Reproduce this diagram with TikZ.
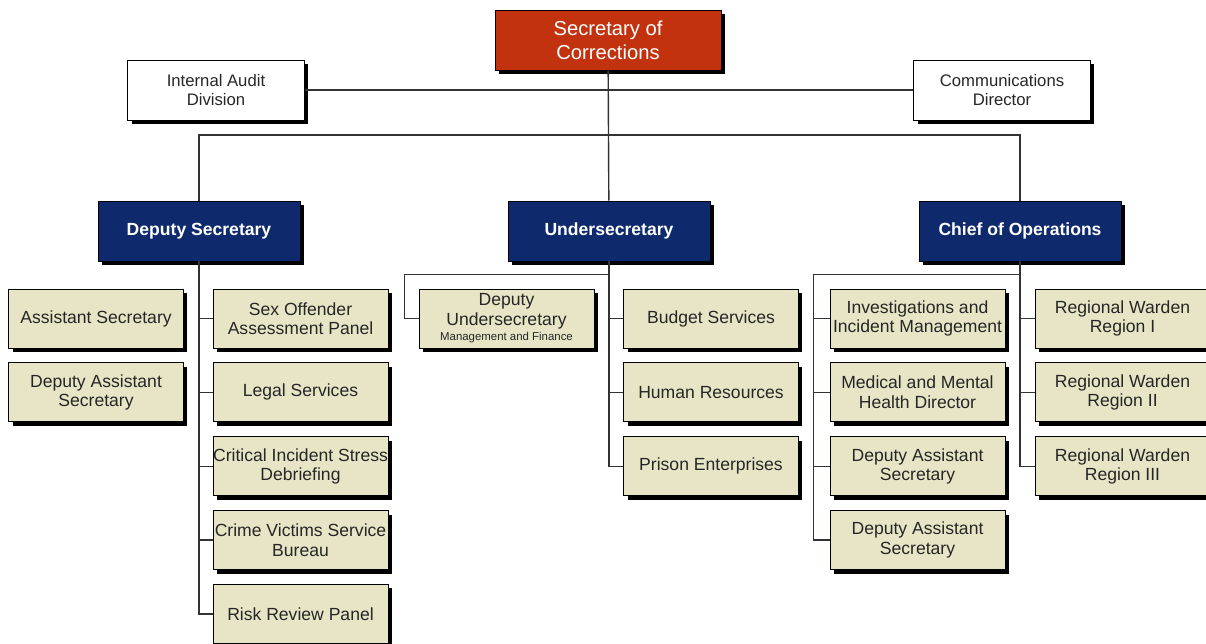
\documentclass[tikz,border=0pt]{standalone}
\usepackage{fontspec}
\setmainfont{Liberation Sans}
\usetikzlibrary{positioning,shadows}

\definecolor{secred}{HTML}{C2320E}
\definecolor{headblue}{HTML}{0E2A6C}
\definecolor{unitfill}{HTML}{E7E5C6}

\begin{document}
\begin{tikzpicture}[
    x=0.02cm, y=-0.02cm,
    node distance=0.28cm and 0.5cm,
    box/.style={draw=black, line width=0.5pt, inner sep=0pt, align=center,
      drop shadow={shadow xshift=0.08cm, shadow yshift=-0.08cm,
        fill=black, opacity=1}},
    top/.style={box, fill=secred, text=white,
      minimum width=4.52cm, minimum height=1.2cm,
      font=\fontsize{11.5}{13.6}\selectfont},
    staff/.style={box, fill=white, text=black!85,
      minimum width=3.54cm, minimum height=1.2cm,
      font=\fontsize{9.5}{10.8}\selectfont},
    head/.style={box, fill=headblue, text=white,
      minimum width=4.04cm, minimum height=1.2cm,
      font=\fontsize{10}{12}\selectfont\bfseries},
    unit/.style={box, fill=unitfill, text=black!85,
      minimum width=3.5cm, minimum height=1.18cm,
      font=\fontsize{10}{11}\selectfont},
    link/.style={draw=black!80, line width=0.8pt}
  ]
    \useasboundingbox (0,0) rectangle (1206,643);

    % top level
    \node[top] (sec) at (608,40) {Secretary of\\Corrections};
    \node[staff] (audit) at (216,90) {Internal Audit\\Division};
    \node[staff] (comm) at (1002,90) {Communications\\Director};

    \node[head] (dep) at (199,231) {Deputy Secretary};
    \node[head] (under) at (609,231) {Undersecretary};
    \node[head] (chief) at (1020,231) {Chief of Operations};

    % deputy secretary
    \node[unit] (asst) at (96,318.5) {Assistant Secretary};
    \node[unit, below=of asst] (dasst) {Deputy Assistant\\Secretary};
    \node[unit] (sexoff) at (300.5,318.5) {Sex Offender\\Assessment Panel};
    \node[unit, below=of sexoff] (legal) {Legal Services};
    \node[unit, below=of legal] (cisd) {Critical Incident Stress\\Debriefing};
    \node[unit, below=of cisd] (cvsb) {Crime Victims Service\\Bureau};
    \node[unit, below=of cvsb] (risk) {Risk Review Panel};

    % undersecretary
    \node[unit] (depunder) at (506.5,318.5) {Deputy\\Undersecretary\\[-2pt]
      {\fontsize{6.5}{7}\selectfont Management and Finance}};
    \node[unit] (budget) at (711,318.5) {Budget Services};
    \node[unit, below=of budget] (hr) {Human Resources};
    \node[unit, below=of hr] (prison) {Prison Enterprises};

    % chief of operations
    \node[unit] (invest) at (917.5,318.5) {Investigations and\\Incident Management};
    \node[unit, below=of invest] (medical) {Medical and Mental\\Health Director};
    \node[unit, below=of medical] (dasstA) {Deputy Assistant\\Secretary};
    \node[unit, below=of dasstA] (dasstB) {Deputy Assistant\\Secretary};
    \node[unit] (wardenA) at (1122.5,318.5) {Regional Warden\\Region I};
    \node[unit, below=of wardenA] (wardenB) {Regional Warden\\Region II};
    \node[unit, below=of wardenB] (wardenC) {Regional Warden\\Region III};

    % connectors
    \coordinate (split) at (608,135);
    \draw[link] (audit) -- (comm);
    \draw[link] (sec) -- (under);
    \draw[link] (dep.north) |- (split) -| (chief.north);

    \draw[link] (dep.south) |- (risk.west);
    \foreach \n in {sexoff,legal,cisd,cvsb}
      \draw[link] (dep.south |- \n.west) -- (\n.west);

    \draw[link] (under.south) |- (prison.west);
    \foreach \n in {budget,hr}
      \draw[link] (under.south |- \n.west) -- (\n.west);
    \draw[link] (under.south) ++(0,13) -| ([xshift=-0.28cm]depunder.west)
      -- (depunder.west);

    \draw[link] (chief.south) |- (wardenC.west);
    \foreach \n in {wardenA,wardenB}
      \draw[link] (chief.south |- \n.west) -- (\n.west);
    \draw[link] (chief.south) ++(0,13) -| ([xshift=-0.32cm]dasstB.west)
      -- (dasstB.west);
    \foreach \n in {invest,medical,dasstA}
      \draw[link] ([xshift=-0.32cm]\n.west) -- (\n.west);
  \end{tikzpicture}
\end{document}
